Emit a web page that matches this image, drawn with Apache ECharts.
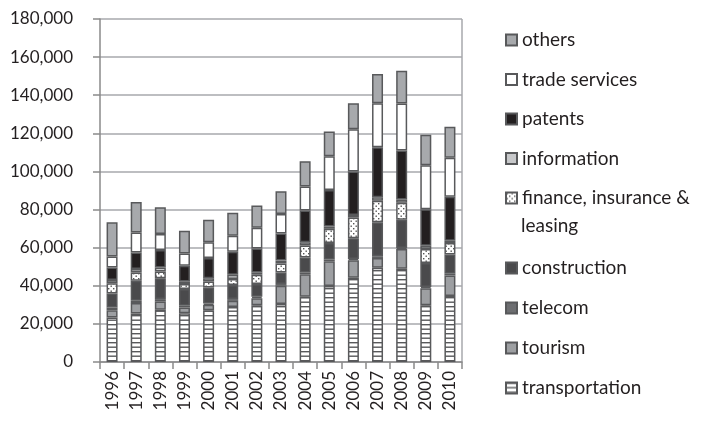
<!DOCTYPE html>
<html lang="en">

<head>
    <meta charset="UTF-8">
    <title>Stacked services chart</title>
    <style>
        html, body { margin: 0; padding: 0; background: #fff; }
        #chartContainer { width: 708px; height: 423px; }
    </style>
    <script src="https://cdn.jsdelivr.net/npm/echarts@6/dist/echarts.min.js"></script>
</head>

<body>
    <div id="chartContainer"></div>
    <script>
        const years = ['1996', '1997', '1998', '1999', '2000', '2001', '2002', '2003',
            '2004', '2005', '2006', '2007', '2008', '2009', '2010'];

        // values, bottom of the stack first
        const transportation = [23300, 25400, 27400, 25600, 27200, 28900, 29800, 30400, 34200, 39900, 44200, 49400, 48900, 29800, 34700];
        const tourism = [3900, 5500, 4300, 3000, 2800, 3200, 3700, 9600, 11900, 13000, 9200, 5200, 10400, 8900, 10700];
        const telecom = [1400, 1200, 1300, 900, 700, 900, 700, 900, 900, 900, 700, 900, 500, 700, 900];
        const construction = [7400, 10500, 11000, 8800, 8400, 7400, 6700, 6100, 7900, 8600, 10900, 17800, 14800, 12600, 10100];
        const finance = [5300, 4400, 3500, 2600, 3200, 3100, 4900, 4700, 6200, 7500, 10800, 11300, 9000, 7300, 6000];
        const information = [1700, 1800, 2100, 1400, 1700, 2300, 1200, 1500, 1700, 1200, 1400, 1800, 1700, 1700, 1200];
        const patents = [6600, 8700, 9200, 8200, 10600, 12100, 12600, 14300, 16700, 19100, 22800, 26300, 25700, 19100, 23100];
        const tradeServices = [5700, 10500, 8400, 6500, 8200, 8400, 10800, 10200, 12600, 17800, 22200, 23100, 24600, 23100, 20500];
        const others = [18000, 15900, 14000, 11900, 11800, 12000, 11700, 11900, 13300, 13000, 13600, 15400, 17300, 16100, 16300];

        const yTicks = { min: 0, max: 180000, step: 20000 };

        // fill patterns
        function stripes() {
            const c = document.createElement('canvas');
            c.width = 4; c.height = 9;
            const g = c.getContext('2d');
            g.fillStyle = '#fff'; g.fillRect(0, 0, 4, 9);
            g.fillStyle = '#58595b';
            g.fillRect(0, 0, 4, 1.4);
            g.fillRect(0, 4.5, 4, 1.4);
            return { image: c, repeat: 'repeat' };
        }
        function dots() {
            const c = document.createElement('canvas');
            c.width = 5; c.height = 5;
            const g = c.getContext('2d');
            g.fillStyle = '#fff'; g.fillRect(0, 0, 5, 5);
            g.fillStyle = '#555';
            g.fillRect(0.5, 0.5, 1.4, 1.4);
            g.fillRect(3, 3, 1.4, 1.4);
            return { image: c, repeat: 'repeat' };
        }

        const layers = [
            { name: 'transportation', data: transportation, color: stripes() },
            { name: 'tourism', data: tourism, color: '#9d9fa2' },
            { name: 'telecom', data: telecom, color: '#6d6e71' },
            { name: 'construction', data: construction, color: '#4a4a4c' },
            { name: 'finance, insurance & leasing', data: finance, color: dots() },
            { name: 'information', data: information, color: '#c7c8ca' },
            { name: 'patents', data: patents, color: '#231f20' },
            { name: 'trade services', data: tradeServices, color: '#ffffff' },
            { name: 'others', data: others, color: '#a7a9ac' }
        ];

        const font = 'Lato, "Open Sans", sans-serif';
        const legendBase = {
            orient: 'vertical',
            left: 500,
            icon: 'rect',
            itemWidth: 11,
            itemHeight: 11,
            selectedMode: false,
            textStyle: { fontFamily: font, fontSize: 19, color: '#231f20', lineHeight: 28 }
        };

        const option = {
            animation: false,
            grid: { left: 100, right: 246, top: 19, bottom: 61 },
            legend: [
                Object.assign({}, legendBase, {
                    top: 21,
                    itemGap: 11.5,
                    data: ['others', 'trade services', 'patents', 'information', 'finance, insurance & leasing'],
                    formatter: n => n === 'finance, insurance & leasing' ? 'finance, insurance &' : n
                }),
                Object.assign({}, legendBase, {
                    top: 249,
                    itemGap: 12,
                    data: ['construction', 'telecom', 'tourism', 'transportation']
                })
            ],
            graphic: [{
                type: 'text',
                left: 521,
                top: 216,
                style: { text: 'leasing', fontFamily: font, fontSize: 19, fill: '#231f20' }
            }],
            xAxis: {
                type: 'category',
                data: years,
                axisLine: { lineStyle: { color: '#8a8a8a', width: 1.5 } },
                axisTick: { show: true, length: 7, lineStyle: { color: '#8a8a8a', width: 1.5 } },
                axisLabel: { rotate: 90, fontFamily: font, fontSize: 17, color: '#231f20', margin: 9 }
            },
            yAxis: {
                type: 'value',
                min: yTicks.min,
                max: yTicks.max,
                interval: yTicks.step,
                axisLine: { show: true, lineStyle: { color: '#8a8a8a', width: 1.5 } },
                axisTick: { show: true, length: 7, lineStyle: { color: '#8a8a8a', width: 1.5 } },
                splitLine: { lineStyle: { color: '#a7a9ac', width: 1.5 } },
                axisLabel: {
                    fontFamily: font, fontSize: 17, color: '#231f20', margin: 27,
                    formatter: v => v.toLocaleString('en-US')
                }
            },
            series: layers.map(l => ({
                name: l.name,
                type: 'bar',
                stack: 'total',
                barWidth: 11,
                data: l.data,
                itemStyle: { color: l.color, borderColor: '#58595b', borderWidth: 1.5 }
            }))
        };

        // right edge of the plot frame
        option.graphic.push({
            type: 'line',
            shape: { x1: 462, y1: 19, x2: 462, y2: 362 },
            style: { stroke: '#a7a9ac', lineWidth: 1.5 }
        });

        const myChart = echarts.init(document.getElementById('chartContainer'));
        myChart.setOption(option);
    </script>
</body>

</html>
